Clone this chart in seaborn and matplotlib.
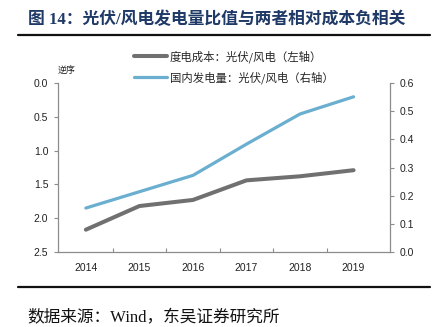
import matplotlib
matplotlib.use("Agg")
import matplotlib.pyplot as plt
import seaborn as sns
import pandas as pd
from matplotlib.lines import Line2D

sns.set_theme(style="white")
plt.rcParams['font.family'] = ['Liberation Sans', 'Noto Sans CJK SC', 'DejaVu Sans']

years = ["2014", "2015", "2016", "2017", "2018", "2019"]
cost_ratio = [2.17, 1.82, 1.73, 1.44, 1.38, 1.29]      # left axis (inverted)
gen_ratio = [0.156, 0.214, 0.272, 0.383, 0.490, 0.551]  # right axis
label_cost = "度电成本：光伏/风电（左轴）"
label_gen = "国内发电量：光伏/风电（右轴）"
title = "图 14：光伏/风电发电量比值与两者相对成本负相关"
source = "数据来源：Wind，东吴证券研究所"

df = pd.DataFrame({"x": list(range(len(years))), "year": years,
                   "cost": cost_ratio, "gen": gen_ratio})

gray = "#707070"
blue = "#6aaed0"
spine_c = "#8c8c8c"
txt_c = "#222222"

fig = plt.figure(figsize=(4.43, 3.27), dpi=100)
ax = fig.add_axes([58/443, 1-252/327, (390-58)/443, (252-83)/327])
ax2 = ax.twinx()

sns.lineplot(data=df, x="x", y="cost", ax=ax, color=gray, linewidth=2.9, legend=False)
sns.lineplot(data=df, x="x", y="gen", ax=ax2, color=blue, linewidth=2.3, legend=False)
for l in ax.lines + ax2.lines:
    l.set_solid_capstyle("round")
    l.set_solid_joinstyle("round")

ax.set_xlim(-0.52, 5.68)
ax.set_ylim(2.5, 0.0)
ax.set_yticks([0.0, 0.5, 1.0, 1.5, 2.0, 2.5])
ax.set_yticklabels(["0.0", "0.5", "1.0", "1.5", "2.0", "2.5"])
ax2.set_ylim(0.0, 0.6)
ax2.set_yticks([0.0, 0.1, 0.2, 0.3, 0.4, 0.5, 0.6])
ax2.set_yticklabels(["0.0", "0.1", "0.2", "0.3", "0.4", "0.5", "0.6"])

ax.set_xticks(range(len(years)))
ax.set_xticklabels(years)
ax.set_xticks([i + 0.5 for i in range(len(years) - 1)], minor=True)
ax.tick_params(axis="x", which="major", length=0, pad=8, labelsize=7.5, labelcolor=txt_c)
ax.tick_params(axis="x", which="minor", length=3, direction="in", color=spine_c, width=0.8, bottom=True)
ax.tick_params(axis="y", length=3, direction="out", color=spine_c, width=0.8, pad=4,
               labelsize=7.5, labelcolor=txt_c, left=True)
ax2.tick_params(axis="y", length=3, direction="out", color=spine_c, width=0.8, pad=4,
                labelsize=7.5, labelcolor=txt_c, right=True)
ax.set_xlabel("")
ax.set_ylabel("")
ax2.set_ylabel("")

for a in (ax, ax2):
    for s in a.spines.values():
        s.set_visible(False)
ax.spines["left"].set_visible(True)
ax.spines["bottom"].set_visible(True)
ax2.spines["right"].set_visible(True)
for s in (ax.spines["left"], ax.spines["bottom"], ax2.spines["right"]):
    s.set_color(spine_c)
    s.set_linewidth(0.9)
ax.grid(False)
ax2.grid(False)

# legend
handles = [Line2D([], [], color=gray, linewidth=2.9), Line2D([], [], color=blue, linewidth=2.3)]
fig.legend(handles, [label_cost, label_gen], loc="upper left",
           bbox_to_anchor=(124/443, 1-40/327), frameon=False, handlelength=2.9,
           handletextpad=0.2, labelspacing=0.75,
           prop={"family": ["Noto Sans CJK SC"], "size": 8.2})

fig.text(67/443, 1-70/327, "逆序", ha="center", va="center", fontsize=6.5,
         family=["Noto Sans CJK SC"], color=txt_c)

fig.text(28/443, 1-20/327, title, ha="left", va="center", fontsize=12.1, fontweight="bold",
         color="#1f3a66", family=["Liberation Serif", "Noto Sans CJK SC"])

fig.add_artist(Line2D([18/443, 430/443], [1-35/327, 1-35/327], transform=fig.transFigure,
                      color="#111111", linewidth=1.6))
fig.add_artist(Line2D([18/443, 430/443], [1-287/327, 1-287/327], transform=fig.transFigure,
                      color="#111111", linewidth=1.6))

fig.text(27/443, 1-318/327, source, ha="left", va="center", fontsize=12,
         color="#111111", family=["Liberation Serif", "Noto Sans CJK SC"])

fig.savefig("out.png", dpi=100)
